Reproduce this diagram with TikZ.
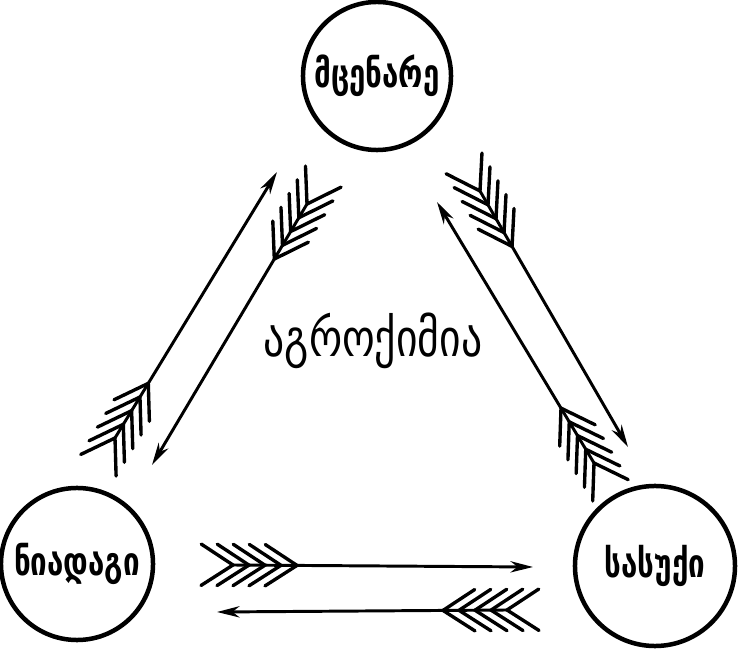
\documentclass[tikz,border=0pt]{standalone}
\usepackage{fontspec}
\setmainfont{DejaVu Sans}
\newfontfamily\kartuli[FakeStretch=0.75]{DejaVu Sans}
\newfontfamily\kartulimid[FakeStretch=0.8]{DejaVu Sans}
\usetikzlibrary{arrows.meta,calc}

\begin{document}
\begin{tikzpicture}[x=0.025cm, y=-0.025cm,
  >={Stealth[length=16pt, width=8pt, inset=5pt]},
  bubble/.style={circle, draw=black, line width=3.2pt, inner sep=0pt, font=\kartuli\bfseries\fontsize{28pt}{32pt}\selectfont},
  midlabel/.style={font=\kartulimid\fontsize{37pt}{42pt}\selectfont},
  shaft/.style={->, line width=2.1pt},
  feather/.style={line width=2.4pt, line cap=round, line join=miter}]
\useasboundingbox (0,0) rectangle (739,649);

\node[bubble, minimum size=3.7cm] (mcenare) at (377, 76) {მცენარე};
\node[bubble, minimum size=3.8cm] (niadagi) at (77, 564) {ნიადაგი};
\node[bubble, minimum size=4cm] (sasuki) at (655, 566) {სასუქი};
\node[midlabel] (agroqimia) at (373, 341) {აგროქიმია};

% tail and head of each arrow
\coordinate (t1) at (115, 438);  \coordinate (h1) at (277, 172);
\coordinate (t2) at (307, 204);  \coordinate (h2) at (152, 465);
\coordinate (t3) at (594, 463);  \coordinate (h3) at (437, 202);
\coordinate (t4) at (480, 191);  \coordinate (h4) at (628, 447);
\coordinate (t5) at (233, 565);  \coordinate (h5) at (533, 567);
\coordinate (t6) at (507, 610);  \coordinate (h6) at (217, 612);

\foreach \t/\h in {t1/h1, t2/h2, t3/h3, t4/h4, t5/h5, t6/h6} {
  \draw[shaft] (\t) -- (\h);
  \foreach \k in {0,...,4} {
    \coordinate (v) at ($(\t)!\k*0.4cm!(\h)$);
    \draw[feather] ($(v)!0.95cm!147:(\h)$) -- (v) -- ($(v)!0.95cm!213:(\h)$);
  }
}
\end{tikzpicture}
\end{document}
